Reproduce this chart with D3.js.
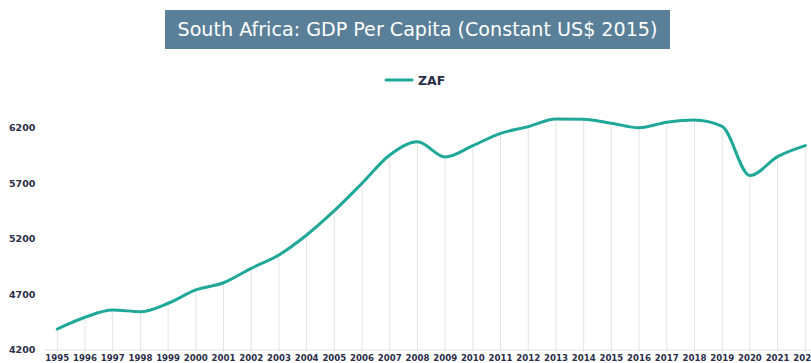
<!DOCTYPE html>
<html>
<head>
<meta charset="utf-8">
<script src="https://cdn.jsdelivr.net/npm/d3@7"></script>
<style>
  body { margin: 0; background: #fff; }
  svg { display: block; }
</style>
</head>
<body>
<svg width="811" height="363"></svg>
<script>
// данные
const years = [1995, 1996, 1997, 1998, 1999, 2000, 2001, 2002, 2003, 2004, 2005, 2006, 2007, 2008,
               2009, 2010, 2011, 2012, 2013, 2014, 2015, 2016, 2017, 2018, 2019, 2020, 2021, 2022];
const zaf = [4380, 4486, 4551, 4536, 4612, 4732, 4797, 4927, 5047, 5227, 5446, 5693, 5948, 6068,
             5930, 6032, 6143, 6203, 6272, 6270, 6234, 6194, 6243, 6263, 6205, 5762, 5933, 6032];
const yTicks = [4200, 4700, 5200, 5700, 6200];
const title = "South Africa: GDP Per Capita (Constant US$ 2015)";
const seriesName = "ZAF";

const svg = d3.select("svg");
const lineColor = "#1fa898";
const textColor = "#2b2e48";

const scX = d3.scaleLinear().domain([1995, 2022]).range([57.3, 805.3]);
const scY = d3.scaleLinear().domain([4200, 6200]).range([349, 127]);

// заголовок
const titleG = svg.append("g");
const titleRect = titleG.append("rect")
    .attr("x", 165).attr("y", 10)
    .attr("width", 505).attr("height", 39)
    .attr("fill", "#5a7f98");
const titleText = titleG.append("text")
    .attr("x", 417.5).attr("y", 36)
    .attr("text-anchor", "middle")
    .attr("fill", "#fff")
    .style("font-family", "'DejaVu Sans', sans-serif")
    .style("font-size", "20px")
    .text(title);
const tw = titleText.node().getComputedTextLength();
titleText.style("font-size", (20 * 480 / tw) + "px");

// легенда
svg.append("line")
    .attr("x1", 386).attr("x2", 412)
    .attr("y1", 80).attr("y2", 80)
    .attr("stroke", lineColor).attr("stroke-width", 3)
    .attr("stroke-linecap", "round");
svg.append("text")
    .attr("x", 418).attr("y", 85)
    .attr("fill", textColor)
    .style("font-family", "'DejaVu Sans', sans-serif")
    .style("font-weight", "bold")
    .style("font-size", "12.5px")
    .text(seriesName);

// ось Y
svg.selectAll(".ytick")
    .data(yTicks).enter()
    .append("text")
    .attr("class", "ytick")
    .attr("x", 9)
    .attr("y", d => scY(d) + 4)
    .attr("fill", textColor)
    .style("font-family", "'DejaVu Sans', sans-serif")
    .style("font-weight", "bold")
    .style("font-size", "9.5px")
    .text(d => d);

// базовая линия
svg.append("line")
    .attr("x1", 44).attr("x2", 811)
    .attr("y1", scY(4200) + 1).attr("y2", scY(4200) + 1)
    .attr("stroke", "#e2e2e2").attr("stroke-width", 1);

// вертикальные линии от точки до низа
svg.selectAll(".drop")
    .data(years).enter()
    .append("line")
    .attr("class", "drop")
    .attr("x1", d => scX(d)).attr("x2", d => scX(d))
    .attr("y1", (d, i) => scY(zaf[i]))
    .attr("y2", scY(4200) + 3)
    .attr("stroke", "#e4e4e4").attr("stroke-width", 1);

// подписи годов
svg.selectAll(".xtick")
    .data(years).enter()
    .append("text")
    .attr("class", "xtick")
    .attr("x", d => scX(d))
    .attr("y", 361)
    .attr("text-anchor", "middle")
    .attr("fill", textColor)
    .style("font-family", "'DejaVu Sans', sans-serif")
    .style("font-weight", "bold")
    .style("font-size", "8.6px")
    .text(d => d);

// линия
const lineGen = d3.line()
    .x((d, i) => scX(years[i]))
    .y(d => scY(d))
    .curve(d3.curveMonotoneX);

svg.append("path")
    .attr("d", lineGen(zaf))
    .attr("fill", "none")
    .attr("stroke", lineColor)
    .attr("stroke-width", 3)
    .attr("stroke-linecap", "round");
</script>
</body>
</html>
